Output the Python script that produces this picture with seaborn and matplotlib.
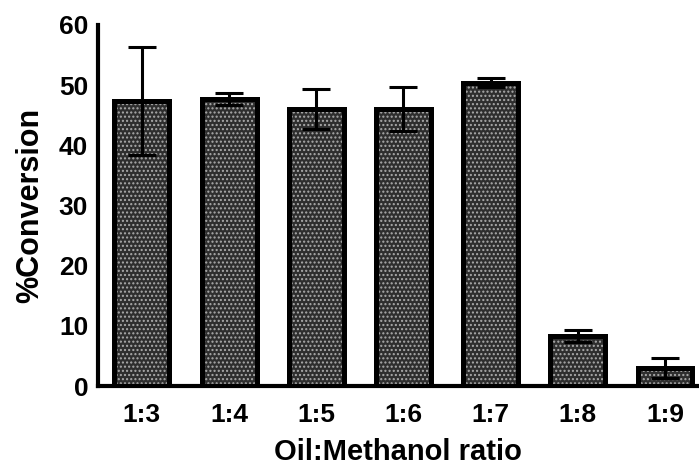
import matplotlib
matplotlib.use("Agg")
import matplotlib.pyplot as plt
from matplotlib.patches import Rectangle
import seaborn as sns
import pandas as pd

ratios = ["1:3", "1:4", "1:5", "1:6", "1:7", "1:8", "1:9"]
conversion = [47.3, 47.6, 46.0, 46.0, 50.4, 8.3, 3.0]
sd = [9.0, 1.0, 3.3, 3.6, 0.8, 1.0, 1.7]

sns.set_theme(style="white")
plt.rcParams["font.family"] = ["Liberation Sans", "DejaVu Sans"]
plt.rcParams["font.weight"] = "bold"

df = pd.DataFrame({"ratio": ratios, "conversion": conversion})

fig = plt.figure(figsize=(6.99, 4.68), dpi=100)
ax = fig.add_axes([0.140, 0.175, 0.860, 0.772])

sns.barplot(data=df, x="ratio", y="conversion", errorbar=None,
            width=0.63, ax=ax)

# dotted fill layer, then a heavy black outline on top of each bar
bars = list(ax.patches)
for p in bars:
    p.set_facecolor("#2e2e2e")
    p.set_edgecolor("#ababab")
    p.set_hatch("....")
    p.set_linewidth(0)
    ax.add_patch(Rectangle(p.get_xy(), p.get_width(), p.get_height(),
                           fill=False, edgecolor="black", linewidth=3.6,
                           joinstyle="miter", zorder=3))

ax.errorbar(range(len(ratios)), conversion, yerr=sd, fmt="none",
            ecolor="black", elinewidth=2.2, capsize=10, capthick=2.2,
            zorder=4)

ax.set_ylim(0, 60)
ax.set_xlim(-0.505, 6.39)
ax.set_yticks([0, 10, 20, 30, 40, 50, 60])

for side in ("top", "right"):
    ax.spines[side].set_visible(False)
for side in ("left", "bottom"):
    ax.spines[side].set_linewidth(3.0)
    ax.spines[side].set_color("black")

ax.tick_params(axis="both", direction="out", length=7, width=3,
               color="black", labelcolor="black", labelsize=19)
ax.tick_params(axis="y", pad=0)
ax.tick_params(axis="x", pad=5)
for lab in ax.get_xticklabels() + ax.get_yticklabels():
    lab.set_fontweight("bold")

ax.set_xlabel("Oil:Methanol ratio", fontsize=21, fontweight="bold",
              color="black", labelpad=8)
ax.set_ylabel("%Conversion", fontsize=22, fontweight="bold",
              color="black", labelpad=10)

fig.savefig("out.png", dpi=100)
